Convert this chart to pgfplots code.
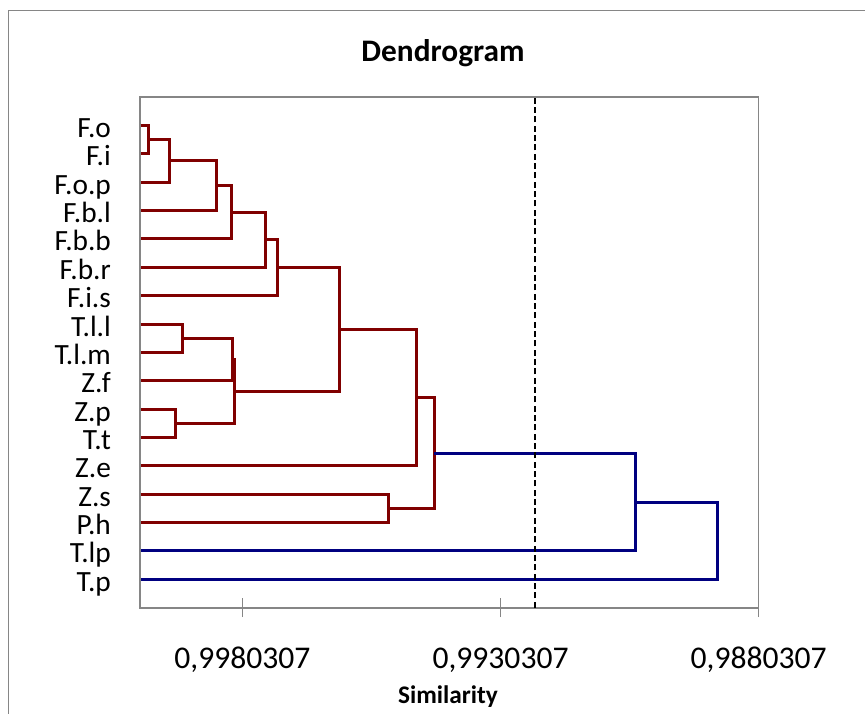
\documentclass[border=0pt]{standalone}
\usepackage{pgfplots}
\pgfplotsset{compat=1.18}
\usepackage{fontspec}
\setmainfont{Carlito}
\definecolor{dred}{RGB}{128,0,0}
\definecolor{dblue}{RGB}{0,0,128}
\definecolor{boxgray}{RGB}{134,134,134}

\begin{document}
\begin{tikzpicture}
  \useasboundingbox (-105pt,-79pt) rectangle (543.75pt,455.8pt);
  % chart area border (cut off right and bottom)
  \draw[boxgray, line width=1.1pt] (-98.8pt,-90pt) -- (-98.8pt,447.75pt) -- (560pt,447.75pt);

  \begin{axis}[
    at={(0pt,0pt)}, anchor=south west,
    scale only axis,
    width=464pt, height=383pt,
    x dir=reverse,
    xmin=0.9880307, xmax=1.0000133,
    ymin=0, ymax=18,
    enlargelimits=false,
    scaled x ticks=false,
    axis line style={boxgray, line width=1.25pt},
    xtick={0.9980307,0.9930307,0.9880307},
    xticklabels={{0,9980307},{0,9930307},{0,9880307}},
    xtick pos=bottom,
    tick align=center,
    major tick length=14.25pt,
    xtick style={draw=boxgray, line width=1.25pt},
    xticklabel style={font=\fontsize{23.7}{28}\selectfont, anchor=base, yshift=-38.5pt},
    ytick={1,...,17},
    yticklabels={T.p,T.lp,P.h,Z.s,Z.e,T.t,Z.p,Z.f,T.l.m,T.l.l,F.i.s,F.b.r,F.b.b,F.b.l,F.o.p,F.i,F.o},
    ytick pos=left,
    ytick style={draw=none},
    yticklabel style={font=\fontsize{22}{26}\selectfont, anchor=base east, inner sep=0pt, xshift=-14.5pt, yshift=-9pt},
    every axis plot/.append style={line width=2.25pt, line join=miter},
  ]
    % red cluster
    \addplot[dred] coordinates {(1,17) (0.9998524,17) (0.9998524,16) (1,16)};
    \addplot[dred] coordinates {(0.9998524,16.5) (0.9994512,16.5) (0.9994512,15) (1,15)};
    \addplot[dred] coordinates {(0.9994512,15.75) (0.9985268,15.75) (0.9985268,14) (1,14)};
    \addplot[dred] coordinates {(0.9985268,14.875) (0.9982497,14.875) (0.9982497,13) (1,13)};
    \addplot[dred] coordinates {(0.9982497,13.9375) (0.9975908,13.9375) (0.9975908,12) (1,12)};
    \addplot[dred] coordinates {(0.9975908,12.96875) (0.9973524,12.96875) (0.9973524,11) (1,11)};
    \addplot[dred] coordinates {(1,10) (0.9991857,10) (0.9991857,9) (1,9)};
    \addplot[dred] coordinates {(0.9991857,9.5) (0.9982167,9.5) (0.9982167,8) (1,8)};
    \addplot[dred] coordinates {(1,7) (0.9993350,7) (0.9993350,6) (1,6)};
    \addplot[dred] coordinates {(0.9982167,8.75) (0.9981916,8.75) (0.9981916,6.5) (0.9993350,6.5)};
    \addplot[dred] coordinates {(0.9973524,11.984375) (0.9961509,11.984375) (0.9961509,7.625) (0.9981916,7.625)};
    \addplot[dred] coordinates {(0.9961509,9.8046875) (0.9946509,9.8046875) (0.9946509,5) (1,5)};
    \addplot[dred] coordinates {(1,4) (0.9952012,4) (0.9952012,3) (1,3)};
    \addplot[dred] coordinates {(0.9946509,7.40234375) (0.9943156,7.40234375) (0.9943156,3.5) (0.9952012,3.5)};
    % blue links
    \addplot[dblue] coordinates {(0.9943156,5.451171875) (0.9904202,5.451171875) (0.9904202,2) (1,2)};
    \addplot[dblue] coordinates {(0.9904202,3.7255859375) (0.9888253,3.7255859375) (0.9888253,1) (1,1)};
    % cut-off level
    \addplot[black, line width=1.5pt, dash pattern=on 4.5pt off 2.5pt] coordinates {(0.9923640,0) (0.9923640,18)};
  \end{axis}

  \node[anchor=base, font=\fontsize{23.5}{28}\selectfont\bfseries] at (227.25pt,410pt) {Dendrogram};
  \node[anchor=base, font=\fontsize{19}{23}\selectfont\bfseries] at (231pt,-71.5pt) {Similarity};
\end{tikzpicture}
\end{document}
